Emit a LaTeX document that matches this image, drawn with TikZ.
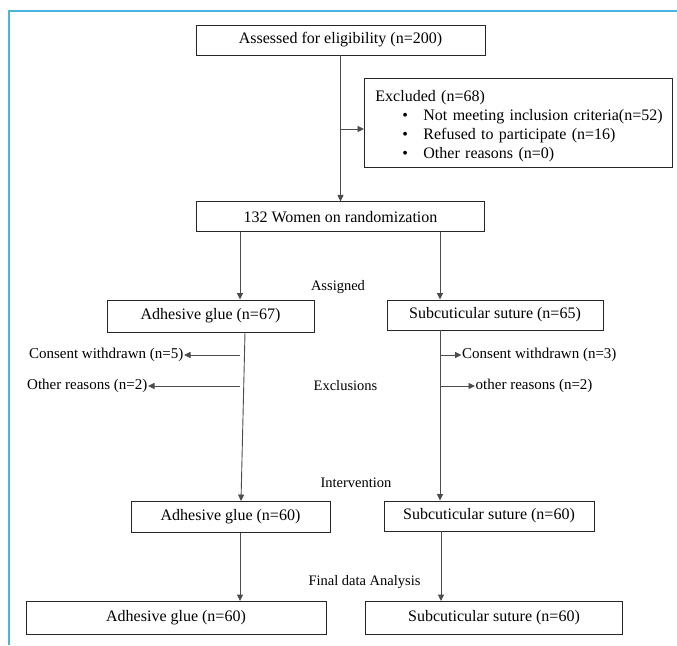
\documentclass[tikz,border=0pt]{standalone}
\usepackage{fontspec}
\setmainfont{Liberation Serif}
\usetikzlibrary{arrows.meta, positioning}
\definecolor{framecol}{RGB}{75,180,222}

\begin{document}
\begin{tikzpicture}[
    x=1pt, y=-1pt,
    box/.style={rectangle, draw=black!85, line width=0.9pt, align=center, minimum height=30pt, inner sep=0pt, font=\fontsize{16}{19}\selectfont},
    listbox/.style={rectangle, draw=black!85, line width=0.9pt, align=left, text width=286pt, minimum height=89pt, inner xsep=11pt, inner ysep=0pt, font=\fontsize{16}{19}\selectfont},
    stagetext/.style={inner sep=0.5pt, font=\fontsize{14.5}{17}\selectfont},
    sidetext/.style={inner sep=0.5pt, font=\fontsize{15}{18}\selectfont},
    arrow/.style={-{Triangle[length=6.5pt,width=6pt]}, line width=0.9pt, draw=black!70},
    frameline/.style={draw=framecol, line width=1.3pt}
]
\useasboundingbox (0,0) rectangle (677,645);
\draw[frameline] (9,645) -- (9,11) -- (677,11);

\node[box, minimum width=289pt] (assess) at (340.5,40) {Assessed for eligibility (n=200)};
\node[listbox, anchor=north west] (excl) at (364,78) {\rule{0pt}{17pt}Excluded (n=68)\\
    \mbox{\hspace*{27pt}\makebox[21pt][l]{\textbullet}Not meeting inclusion criteria(n=52)}\\
    \mbox{\hspace*{27pt}\makebox[21pt][l]{\textbullet}Refused to participate (n=16)}\\
    \mbox{\hspace*{27pt}\makebox[21pt][l]{\textbullet}Other reasons (n=0)}};
\node[box, minimum width=288pt, below=146pt of assess] (rand) {132 Women on randomization};

\node[box, minimum width=207pt, minimum height=32pt] (glue67) at (210.5,316) {Adhesive glue (n=67)};
\node[box, minimum width=216pt] (sut65) at (495,315) {Subcuticular suture (n=65)};
\node[box, minimum width=199pt, minimum height=31pt] (glue60) at (230.5,517) {Adhesive glue (n=60)};
\node[box, minimum width=210pt] (sut60) at (489,516) {Subcuticular suture (n=60)};
\node[box, minimum width=300pt, minimum height=33pt] (glueF) at (176,618) {Adhesive glue (n=60)};
\node[box, minimum width=257pt, minimum height=33pt] (sutF) at (494,618) {Subcuticular suture (n=60)};

\node[stagetext] (assigned) at (338,287) {Assigned};
\node[stagetext] (exclusions) at (345.5,386) {Exclusions};
\node[stagetext] (intervention) at (356,483) {Intervention};
\node[stagetext] (analysis) at (364.5,582) {Final data Analysis};

\node[sidetext, anchor=east] (cw5) at (184,355) {Consent withdrawn (n=5)};
\node[sidetext, anchor=east] (or2) at (148,386) {Other reasons (n=2)};
\node[sidetext, anchor=west] (cw3) at (461.5,355) {Consent withdrawn (n=3)};
\node[sidetext, anchor=west] (or2b) at (475,386) {other reasons (n=2)};

\coordinate (exclbranch) at (340.5,129);
\coordinate (glueexit1) at (240,355);
\coordinate (glueexit2) at (240,386);
\coordinate (sutexit1) at (440,355);
\coordinate (sutexit2) at (440,386);

\draw[arrow] (assess) -- (rand);
\draw[arrow] (exclbranch) -- (exclbranch -| excl.west);
\draw[arrow] ([xshift=-100.5pt]rand.south) -- ([xshift=29.5pt]glue67.north);
\draw[arrow] ([xshift=99.5pt]rand.south) -- ([xshift=-55pt]sut65.north);
\draw[arrow] ([xshift=34.5pt]glue67.south) -- ([xshift=10.5pt]glue60.north);
\draw[arrow] ([xshift=-55pt]sut65.south) -- ([xshift=-49pt]sut60.north);
\draw[arrow] ([xshift=9.5pt]glue60.south) -- ([xshift=64pt]glueF.north);
\draw[arrow] ([xshift=-48pt]sut60.south) -- ([xshift=-53pt]sutF.north);
\draw[arrow] (glueexit1) -- (cw5.east);
\draw[arrow] (glueexit2) -- (or2.east);
\draw[arrow] (sutexit1) -- (cw3.west);
\draw[arrow] (sutexit2) -- (or2b.west);
\end{tikzpicture}
\end{document}
